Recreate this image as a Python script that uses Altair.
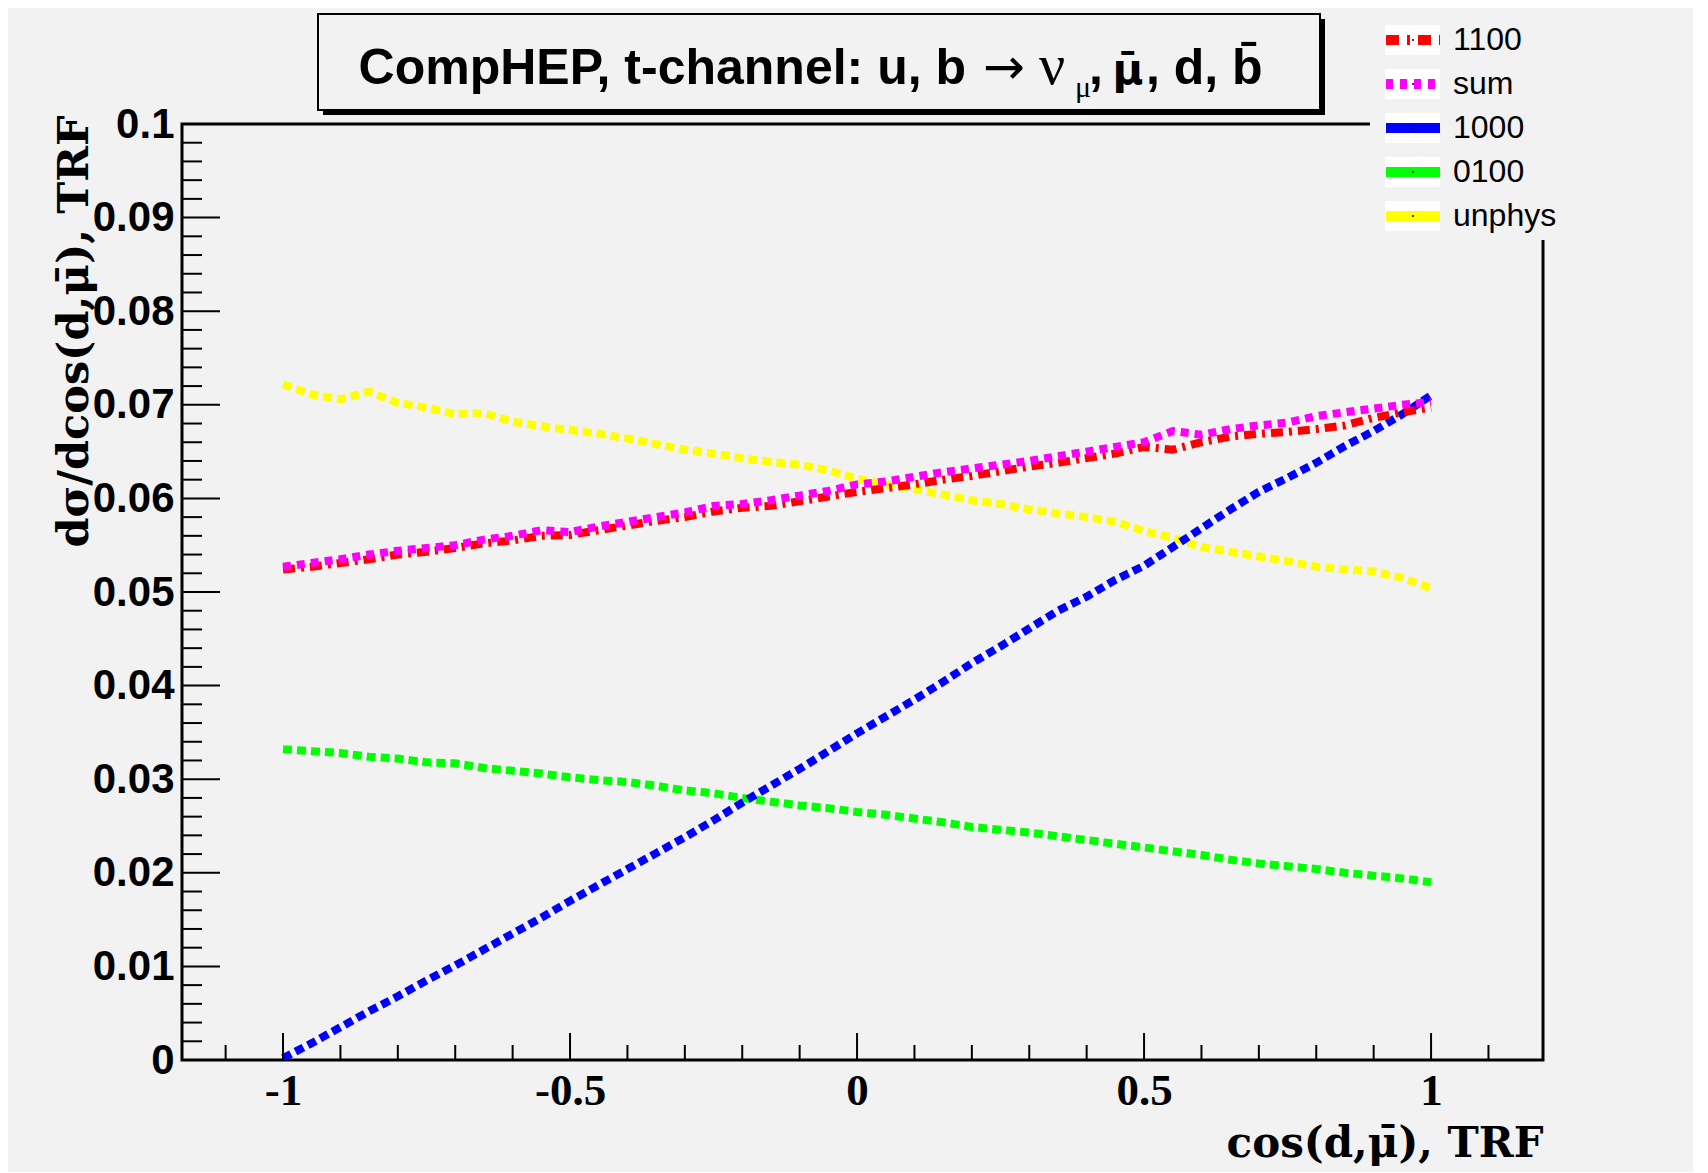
import altair as alt
import pandas as pd

# ---------------- data ----------------
cos_x = [-1.00, -0.95, -0.90, -0.85, -0.80, -0.75, -0.70, -0.65, -0.60, -0.55,
         -0.50, -0.45, -0.40, -0.35, -0.30, -0.25, -0.20, -0.15, -0.10, -0.05,
         0.00, 0.05, 0.10, 0.15, 0.20, 0.25, 0.30, 0.35, 0.40, 0.45,
         0.50, 0.55, 0.60, 0.65, 0.70, 0.75, 0.80, 0.85, 0.90, 0.95, 1.00]

unphys = [0.0722, 0.0711, 0.0706, 0.0714, 0.0702, 0.0697, 0.0690, 0.0691, 0.0682, 0.0677,
          0.0673, 0.0669, 0.0664, 0.0658, 0.0652, 0.0648, 0.0643, 0.0639, 0.0636, 0.0630,
          0.0621, 0.0615, 0.0610, 0.0604, 0.0598, 0.0594, 0.0588, 0.0584, 0.0580, 0.0575,
          0.0565, 0.0558, 0.0548, 0.0543, 0.0538, 0.0533, 0.0527, 0.0524, 0.0522, 0.0515, 0.0504]

s0100 = [0.0332, 0.0330, 0.0328, 0.0324, 0.0322, 0.0318, 0.0317, 0.0312, 0.0309, 0.0306,
         0.0302, 0.0299, 0.0297, 0.0293, 0.0288, 0.0285, 0.0280, 0.0276, 0.0272, 0.0269,
         0.0265, 0.0262, 0.0258, 0.0254, 0.0249, 0.0246, 0.0243, 0.0239, 0.0235, 0.0231,
         0.0227, 0.0223, 0.0219, 0.0214, 0.0210, 0.0207, 0.0204, 0.0200, 0.0197, 0.0194, 0.0190]

s1000 = [0.0002, 0.0018, 0.0035, 0.0052, 0.0068, 0.0085, 0.0101, 0.0118, 0.0135, 0.0152,
         0.0170, 0.0187, 0.0204, 0.0221, 0.0238, 0.0256, 0.0275, 0.0293, 0.0311, 0.0330,
         0.0349, 0.0367, 0.0385, 0.0404, 0.0424, 0.0442, 0.0461, 0.0480, 0.0495, 0.0513,
         0.0528, 0.0548, 0.0568, 0.0588, 0.0607, 0.0622, 0.0638, 0.0656, 0.0672, 0.0690, 0.0710]

s1100 = [0.0524, 0.0527, 0.0531, 0.0535, 0.0540, 0.0543, 0.0547, 0.0552, 0.0555, 0.0560,
         0.0561, 0.0566, 0.0571, 0.0576, 0.0580, 0.0586, 0.0590, 0.0592, 0.0597, 0.0602,
         0.0607, 0.0611, 0.0615, 0.0620, 0.0624, 0.0629, 0.0634, 0.0638, 0.0643, 0.0648,
         0.0655, 0.0652, 0.0660, 0.0666, 0.0669, 0.0671, 0.0674, 0.0678, 0.0686, 0.0692, 0.0697]

ssum = [0.0527, 0.0531, 0.0535, 0.0540, 0.0544, 0.0547, 0.0550, 0.0556, 0.0560, 0.0566,
        0.0564, 0.0570, 0.0575, 0.0580, 0.0585, 0.0592, 0.0594, 0.0598, 0.0603, 0.0608,
        0.0615, 0.0618, 0.0623, 0.0628, 0.0632, 0.0636, 0.0640, 0.0645, 0.0650, 0.0655,
        0.0660, 0.0672, 0.0668, 0.0674, 0.0678, 0.0681, 0.0688, 0.0692, 0.0696, 0.0700, 0.0703]

series_names = ["unphys", "0100", "1000", "1100", "sum"]
series_values = [unphys, s0100, s1000, s1100, ssum]
series_colors = ["#ffff00", "#00ff00", "#0000ff", "#ff0000", "#ff00ff"]

legend_names = ["1100", "sum", "1000", "0100", "unphys"]
legend_colors = ["#ff0000", "#ff00ff", "#0000ff", "#00ff00", "#ffff00"]

x_major = [-1.0, -0.5, 0.0, 0.5, 1.0]
x_minor = [-1.1, -0.9, -0.8, -0.7, -0.6, -0.4, -0.3, -0.2, -0.1,
           0.1, 0.2, 0.3, 0.4, 0.6, 0.7, 0.8, 0.9, 1.1]
y_major = [0.0, 0.01, 0.02, 0.03, 0.04, 0.05, 0.06, 0.07, 0.08, 0.09, 0.1]
y_minor = [round(0.002 * i, 3) for i in range(1, 50) if i % 5 != 0]

# title pieces: "CompHEP, t-channel: u, b -> nu_mu, mu-bar, d, b-bar"
T_MAIN = "CompHEP, t-channel: u, b"
T_ARROW = "\u2192"
T_NU = "\u03bd"
T_SUB = "\u03bc"
T_COMMA = ","
T_MUBAR = "\u03bc\u0304"
T_END = ", d, b\u0304"
X_TITLE = "cos(d,\u03bc\u0304), TRF"
Y_TITLE = "d\u03c3/dcos(d,\u03bc\u0304), TRF"

# ---------------- layout ----------------
W, H = 1361, 936
BG = "#f2f2f2"

xs = alt.Scale(domain=[-1.176, 1.195], nice=False, zero=False)
ys = alt.Scale(domain=[0, 0.1], nice=False, zero=False)

x_axis = alt.Axis(values=x_major, labelExpr="replace(format(datum.value, '~g'), '\u2212', '-')",
                  ticks=False, domain=False, grid=False,
                  labelFont="Liberation Serif", labelFontWeight="bold", labelFontSize=45,
                  labelColor="black", labelPadding=8, labelFlush=False,
                  titleFont="DejaVu Serif", titleFontWeight="bold", titleFontSize=42,
                  titleColor="black", titleAnchor="end", titleAlign="right",
                  titleX=W, titleY=96, titleBaseline="alphabetic")
y_axis = alt.Axis(values=y_major, labelExpr="format(datum.value, '~g')",
                  ticks=False, domain=False, grid=False,
                  labelFont="Liberation Sans", labelFontWeight="bold", labelFontSize=42,
                  labelColor="black", labelPadding=8, labelFlush=False,
                  titleFont="DejaVu Serif", titleFontWeight="bold", titleFontSize=43,
                  titleColor="black", titleAngle=270, titleAnchor="end", titleAlign="right",
                  titleX=-95, titleY=-9, titleBaseline="alphabetic")


def X():
    return alt.X("x:Q", scale=xs, axis=x_axis, title=X_TITLE)


def Y():
    return alt.Y("y:Q", scale=ys, axis=y_axis, title=Y_TITLE)


one = pd.DataFrame({"a": [0]})
layers = []

# data lines
dashes = {"unphys": [9, 5], "0100": [9, 5], "1000": [9, 5], "1100": [12, 6, 3, 6], "sum": [8, 6]}
for name, vals, col in zip(series_names, series_values, series_colors):
    df = pd.DataFrame({"x": cos_x, "y": vals})
    layers.append(alt.Chart(df).mark_line(color=col, strokeWidth=8, strokeDash=dashes[name],
                                          strokeCap="butt", clip=True).encode(x=X(), y=Y()))

# axis ticks pointing inward
layers.append(alt.Chart(pd.DataFrame({"x": x_major})).mark_rule(color="black", strokeWidth=2)
              .encode(x=X(), y=alt.value(H), y2=alt.value(H - 27)))
layers.append(alt.Chart(pd.DataFrame({"x": x_minor})).mark_rule(color="black", strokeWidth=2)
              .encode(x=X(), y=alt.value(H), y2=alt.value(H - 15)))
layers.append(alt.Chart(pd.DataFrame({"y": y_major[1:]})).mark_rule(color="black", strokeWidth=2)
              .encode(y=Y(), x=alt.value(0), x2=alt.value(38)))
layers.append(alt.Chart(pd.DataFrame({"y": y_minor})).mark_rule(color="black", strokeWidth=2)
              .encode(y=Y(), x=alt.value(0), x2=alt.value(20)))

# title box with shadow
layers.append(alt.Chart(one).mark_rect(color="black")
              .encode(x=alt.value(141), x2=alt.value(1143), y=alt.value(-105), y2=alt.value(-9)))
layers.append(alt.Chart(one).mark_rect(fill=BG, stroke="black", strokeWidth=2)
              .encode(x=alt.value(136), x2=alt.value(1138), y=alt.value(-110), y2=alt.value(-14)))


def ttext(txt, x, y, align="left", font="Liberation Sans", size=50, weight="bold"):
    return alt.Chart(one).mark_text(text=txt, align=align, baseline="alphabetic", font=font,
                                    fontWeight=weight, fontSize=size, color="black").encode(
        x=alt.value(x), y=alt.value(y))


layers.append(ttext(T_MAIN, 784, -40, align="right"))
layers.append(ttext(T_ARROW, 822, -40, align="center", font="DejaVu Sans", size=50, weight="normal"))
layers.append(ttext(T_NU, 857, -40, font="Liberation Serif", size=58, weight="normal"))
layers.append(ttext(T_SUB, 893, -27, font="Liberation Serif", size=30, weight="normal"))
layers.append(ttext(T_COMMA, 907, -40))
layers.append(ttext(T_MUBAR, 946, -40, align="center", font="DejaVu Sans", size=42))
layers.append(ttext(T_END, 964, -40))

# legend (covers the frame corner)
layers.append(alt.Chart(one).mark_rect(fill=BG)
              .encode(x=alt.value(1188), x2=alt.value(1500), y=alt.value(-116), y2=alt.value(116)))
leg_dash = {"1100": [13, 8, 3, 8], "sum": [7, 7]}
for i, (name, col) in enumerate(zip(legend_names, legend_colors)):
    ly = -84 + i * 44
    layers.append(alt.Chart(one).mark_rect(fill="white")
                  .encode(x=alt.value(1203), x2=alt.value(1258), y=alt.value(ly - 15), y2=alt.value(ly + 15)))
    kw = dict(color=col, strokeWidth=10, strokeCap="butt")
    if name in leg_dash:
        kw["strokeDash"] = leg_dash[name]
    layers.append(alt.Chart(one).mark_rule(**kw)
                  .encode(x=alt.value(1204), x2=alt.value(1258), y=alt.value(ly)))
    layers.append(alt.Chart(one).mark_point(filled=True, color="black", size=4, opacity=1)
                  .encode(x=alt.value(1231), y=alt.value(ly)))
    layers.append(alt.Chart(one).mark_text(text=name, align="left", baseline="middle",
                                           font="Liberation Sans", fontSize=32, color="black")
                  .encode(x=alt.value(1271), y=alt.value(ly)))

chart = alt.layer(*layers).properties(
    width=W, height=H,
    autosize=alt.AutoSizeParams(type="none"),
    padding={"left": 174, "top": 116, "right": 150, "bottom": 112},
    background=BG,
).configure_view(stroke="black", strokeWidth=3, fill=BG)

chart.save("out.html", embed_options={"renderer": "svg", "actions": False})
